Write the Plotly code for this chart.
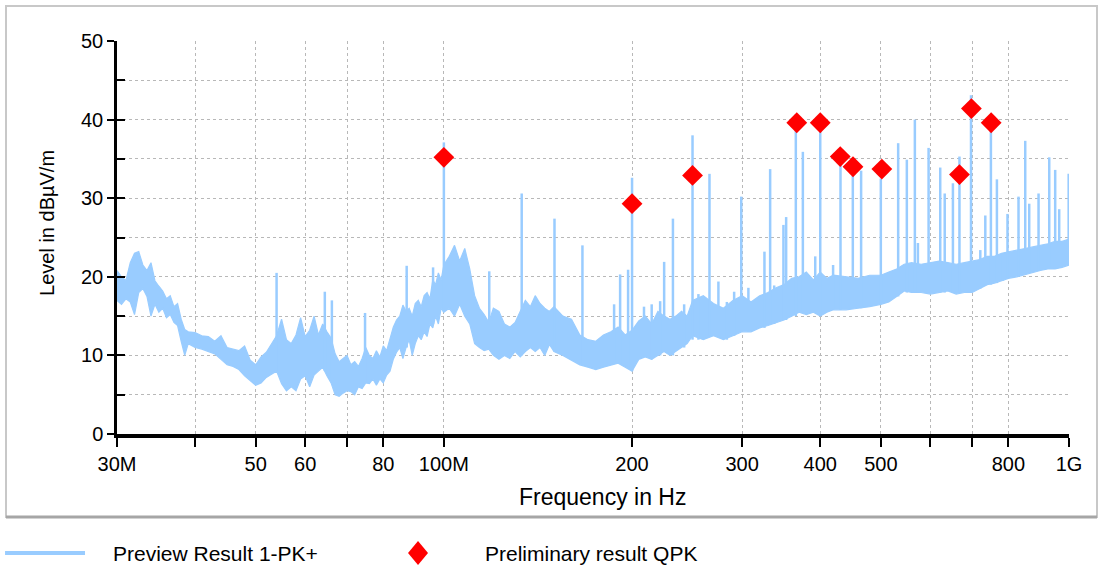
import math

import plotly.graph_objects as go

BLUE = "#99ccff"
GRID = "#b8b8b8"
FONT = "Liberation Sans, Arial, sans-serif"

# Preview Result 1-PK+ : noise band (MHz, dBuV/m)
band_freq = [30, 30.5, 31, 31.5, 32, 32.5, 33, 33.5, 34, 34.5, 35, 35.5, 36, 36.5, 37, 37.5,
             38, 38.5, 39, 40, 41, 42, 43, 44, 45, 46, 47, 48, 49, 50, 51, 52, 53, 54, 55,
             56, 57, 58, 59, 60, 61, 62, 63, 64, 65, 66, 67, 68, 69, 70, 71, 72, 73, 74, 75,
             76, 77, 78, 79, 80, 81, 82, 83, 84, 85, 86, 87, 88, 89, 90, 91, 92, 93, 94, 95,
             96, 97, 98, 99, 100, 102, 104, 106, 108, 110, 112, 114, 116, 118, 120, 122.5,
             125, 127.5, 130, 132.5, 135, 137.5, 140, 142.5, 145, 147.5, 150, 155, 160, 165,
             170, 175, 180, 185, 190, 195, 200, 205, 210, 215, 220, 225, 230, 235, 240, 245,
             250, 260, 270, 280, 290, 300, 310, 320, 330, 340, 350, 360, 370, 380, 390, 400,
             410, 420, 440, 460, 480, 500, 515, 530, 545, 560, 580, 600, 620, 640, 660, 680,
             700, 720, 740, 760, 780, 800, 825, 850, 875, 900, 925, 950, 975, 1000]
band_low = [17.0, 16.5, 17.2, 16.8, 15.2, 18.0, 18.5, 17.5, 15.0, 16.5, 15.5, 16.0, 14.8, 15.2,
            14.2, 13.8, 11.8, 10.0, 11.5, 11.0, 10.8, 10.5, 10.2, 9.5, 8.8, 8.6, 8.2, 7.4, 6.8,
            6.2, 6.5, 7.2, 7.6, 8.0, 6.4, 5.5, 6.0, 5.5, 7.0, 7.4, 6.0, 7.5, 8.0, 8.5, 7.4, 6.5,
            5.0, 4.8, 5.2, 5.5, 5.4, 5.0, 6.0, 5.8, 6.5, 6.4, 7.0, 6.2, 7.0, 6.5, 7.5, 8.0, 9.5,
            10.4, 11.0, 9.6, 11.0, 12.0, 10.0, 11.5, 12.5, 12.0, 13.0, 12.4, 14.0, 13.5, 15.0,
            14.0, 16.0, 15.5, 16.0, 15.0, 16.5, 15.0, 14.0, 11.5, 11.0, 10.6, 10.8, 10.0, 9.5,
            10.0, 9.6, 10.5, 9.8, 10.5, 11.0, 10.5, 11.0, 10.0, 11.4, 10.5, 10.0, 9.4, 8.8, 8.5,
            8.2, 8.5, 8.8, 9.0, 8.5, 8.0, 9.5, 9.8, 9.5, 10.0, 10.5, 10.0, 10.5, 11.0, 11.5,
            12.5, 12.0, 12.5, 12.0, 12.5, 13.0, 13.0, 13.5, 13.8, 14.2, 14.5, 15.0, 15.5, 15.2,
            15.5, 15.0, 15.5, 15.8, 15.8, 16.0, 16.2, 16.5, 16.8, 17.5, 18.2, 18.0, 18.0, 17.8,
            18.0, 18.2, 17.8, 18.0, 18.0, 18.5, 19.0, 19.2, 19.5, 19.8, 20.0, 20.3, 20.5, 20.8,
            21.0, 21.0, 21.2, 21.5]
band_high = [20.8, 20.0, 19.5, 21.8, 23.0, 23.2, 21.5, 20.8, 21.8, 19.5, 18.8, 18.2, 17.2, 17.6,
             16.2, 16.6, 14.6, 13.3, 13.0, 12.9, 12.5, 12.4, 11.8, 12.5, 11.0, 10.8, 10.6, 11.2,
             9.4, 8.8, 9.8, 10.4, 11.4, 12.5, 14.6, 12.0, 11.5, 12.6, 14.8, 12.4, 13.2, 15.0,
             12.6, 14.0, 13.0, 12.2, 10.2, 9.2, 9.6, 10.0, 8.8, 9.2, 8.6, 9.6, 11.0, 10.0, 9.6,
             10.6, 9.8, 11.2, 10.6, 12.0, 13.6, 14.5, 15.0, 16.4, 15.6, 16.0, 15.0, 16.6, 17.0,
             16.2, 17.6, 18.0, 17.2, 19.6, 19.0, 20.5, 19.6, 21.5, 22.6, 24.0, 22.0, 23.6, 21.0,
             17.6, 16.0, 15.2, 14.2, 16.0, 15.6, 14.0, 13.6, 14.2, 15.6, 17.0, 16.2, 17.6, 16.6,
             16.0, 15.6, 16.2, 15.0, 14.6, 12.6, 12.0, 11.8, 12.6, 13.0, 13.6, 12.6, 13.2, 14.4,
             15.0, 14.0, 15.6, 15.0, 14.6, 15.0, 15.6, 15.0, 17.0, 17.6, 16.6, 16.0, 17.0, 17.6,
             16.8, 17.6, 18.0, 18.6, 19.0, 19.8, 20.0, 20.6, 19.6, 20.6, 19.8, 20.2, 20.0, 19.8,
             20.2, 20.2, 20.6, 21.0, 21.6, 21.8, 21.6, 21.8, 22.0, 21.8, 21.6, 21.8, 22.0, 22.2,
             22.6, 22.6, 23.0, 23.2, 23.4, 23.6, 23.8, 24.0, 24.2, 24.5, 24.5, 24.8]

# narrow carriers sticking out of the band
spike_freq = [54.0, 64.5, 66.2, 74.8, 87.2, 96.1, 100.0, 118.2, 133.2, 150.3, 166.6, 187.2,
              191.4, 197.1, 200.0, 209, 215, 221.8, 225.1, 232.5, 242.3, 249.9, 255.4, 266,
              274.9, 283.6, 291.3, 299, 307, 325.7, 332.6, 337.6, 349.3, 352.8, 365.6, 375.2,
              392.7, 400, 419.4, 431, 451, 465, 500, 533, 550.3, 566.8, 573.2, 596.2, 622.3,
              632.7, 652.1, 668, 697, 721.3, 734.7, 750, 766.8, 783.9, 797.3, 830.3, 851.1,
              863.7, 893.9, 929.8, 950.4, 964.6, 998.8]
spike_base = [8.0, 8.0, 7.0, 6.5, 11.0, 14.0, 15.5, 11.0, 10.0, 10.5, 9.0, 9.0, 9.0, 8.5, 8.0,
              10.0, 9.5, 10.0, 10.5, 10.0, 11.0, 12.0, 12.0, 12.5, 12.5, 12.0, 12.5, 13.0, 13.0,
              13.5, 14.0, 14.0, 14.5, 14.5, 15.0, 15.5, 15.5, 15.0, 15.8, 15.8, 16.0, 16.0, 16.5,
              17.5, 18.0, 18.0, 18.0, 18.0, 18.0, 18.0, 18.0, 18.0, 18.0, 18.5, 19.0, 19.0, 19.2,
              19.5, 19.8, 20.0, 20.3, 20.5, 20.8, 21.0, 21.0, 21.2, 21.5]
spike_peak = [20.5, 18.1, 17.0, 15.4, 21.4, 21.2, 37.1, 20.7, 30.6, 27.4, 24.0, 16.5, 20.3, 20.9,
              32.6, 16.2, 16.5, 16.9, 21.9, 27.4, 16.5, 38.0, 17.8, 33.1, 19.4, 16.8, 18.1, 30.2,
              18.6, 23.2, 33.7, 18.9, 26.6, 27.6, 40.7, 35.9, 22.6, 39.6, 21.5, 34.6, 32.9, 33.5,
              32.5, 37.0, 34.9, 40.0, 24.3, 36.4, 33.9, 30.6, 31.9, 35.3, 43.1, 23.4, 27.8, 39.2,
              32.4, 23.0, 28.0, 30.2, 37.3, 29.3, 30.6, 35.2, 33.6, 28.6, 33.1]

# Preliminary result QPK
qpk_freq = [100.0, 200.0, 249.9, 366.9, 400.0, 430.6, 451.3, 501.9, 668.0, 698.0, 750.7]
qpk_level = [35.2, 29.3, 32.9, 39.6, 39.6, 35.3, 34.0, 33.7, 33.0, 41.4, 39.6]

x_tick_vals = [30, 40, 50, 60, 70, 80, 100, 200, 300, 400, 500, 600, 700, 800, 1000]
x_tick_text = ["30M", "", "50", "60", "", "80", "100M", "200", "300", "400", "500", "", "",
               "800", "1G"]

fig = go.Figure()

fig.add_trace(go.Scatter(x=band_freq, y=band_low, mode="lines",
                         line=dict(color=BLUE, width=1.2), showlegend=False,
                         hoverinfo="skip"))
fig.add_trace(go.Scatter(x=band_freq, y=band_high, mode="lines", fill="tonexty",
                         fillcolor=BLUE, line=dict(color=BLUE, width=1.2),
                         name="Preview Result 1-PK+", showlegend=False))

sx, sy = [], []
for f, b, p in zip(spike_freq, spike_base, spike_peak):
    sx += [f, f, None]
    sy += [b, p, None]
fig.add_trace(go.Scatter(x=sx, y=sy, mode="lines", line=dict(color=BLUE, width=2.5),
                         name="Preview Result 1-PK+", showlegend=False))

fig.add_trace(go.Scatter(x=qpk_freq, y=qpk_level, mode="markers",
                         marker=dict(symbol="diamond", size=16, color="#ff0000",
                                     line=dict(width=0)),
                         name="Preliminary result QPK", showlegend=False))

# empty trace so the overlay axis (inside ticks) is drawn
fig.add_trace(go.Scatter(x=[], y=[], yaxis="y2", showlegend=False))

fig.update_layout(
    width=1102, height=567,
    margin=dict(l=117, r=33, t=41, b=133),
    paper_bgcolor="white", plot_bgcolor="white",
    font=dict(family=FONT, size=20, color="#000000"),
    xaxis=dict(
        type="log", range=[math.log10(30), 3],
        tickvals=x_tick_vals, ticktext=x_tick_text,
        ticks="outside", ticklen=9, tickwidth=2, tickcolor="#000000",
        ticklabelstandoff=0,
        showline=True, linecolor="#000000", linewidth=3.5,
        showgrid=True, gridcolor=GRID, gridwidth=1, griddash="dot",
        zeroline=False,
    ),
    yaxis=dict(
        range=[0, 50], tick0=0, dtick=10,
        ticks="outside", ticklen=7, tickwidth=2, tickcolor="#000000",
        showline=True, linecolor="#000000", linewidth=2.5,
        showgrid=True, gridcolor=GRID, gridwidth=1, griddash="dot",
        minor=dict(dtick=5, tick0=0, ticks="", showgrid=True, gridcolor=GRID,
                   gridwidth=1, griddash="dot"),
        zeroline=False,
    ),
    yaxis2=dict(
        overlaying="y", side="left", range=[0, 50], tickmode="linear", tick0=0, dtick=5,
        ticks="inside", ticklen=8, tickwidth=2, tickcolor="#000000",
        showticklabels=False, showgrid=False, zeroline=False, showline=False,
    ),
    annotations=[
        dict(text="Frequency in Hz", x=0.5105, y=-0.160, xref="paper", yref="paper",
             showarrow=False, xanchor="center", yanchor="middle", font=dict(size=23)),
        dict(text="Level in dBµV/m", x=-0.0735, y=0.537, xref="paper", yref="paper",
             showarrow=False, textangle=-90, xanchor="center", yanchor="middle"),
        dict(text="Preview Result 1-PK+", x=-0.0063, y=-0.3028, xref="paper", yref="paper",
             showarrow=False, xanchor="left", yanchor="middle", font=dict(size=21)),
        dict(text="Preliminary result QPK", x=0.3845, y=-0.3028, xref="paper",
             yref="paper", showarrow=False, xanchor="left", yanchor="middle",
             font=dict(size=21)),
    ],
    shapes=[
        dict(type="rect", xref="paper", yref="paper", x0=-0.1166, x1=1.0294,
             y0=-0.2112, y1=1.089, line=dict(color="#c8c8c8", width=2), layer="below"),
        dict(type="line", xref="paper", yref="paper", x0=-0.1166, x1=1.0294,
             y0=-0.2112, y1=-0.2112, line=dict(color="#a6a6a6", width=3)),
        dict(type="line", xref="paper", yref="paper", x0=-0.1176, x1=-0.0336,
             y0=-0.3028, y1=-0.3028, line=dict(color=BLUE, width=4)),
        dict(type="path", xref="paper", yref="paper", xsizemode="pixel",
             ysizemode="pixel", xanchor=0.3162, yanchor=-0.3028,
             path="M -10 0 L 0 12 L 10 0 L 0 -12 Z", fillcolor="#ff0000",
             line=dict(width=0)),
    ],
)

# the page body has an 8px default margin; drop it so the figure fills the window
fig.write_html("out.html", config={"displayModeBar": False},
               post_script="document.body.style.margin = '0';")
